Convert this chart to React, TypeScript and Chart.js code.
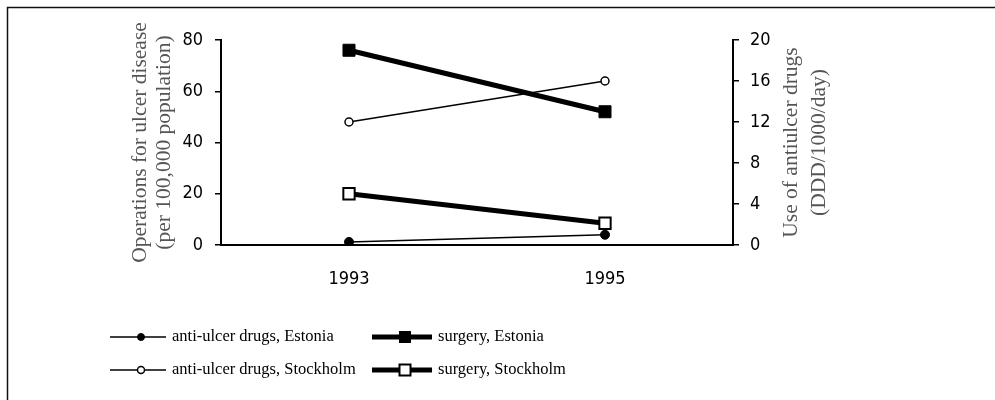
import React, { useEffect, useRef } from 'react';
import { Chart, registerables } from 'chart.js';

Chart.register(...registerables);

const years = ['1993', '1995'];
const drugsEstonia = [0.3, 1.0];
const drugsStockholm = [12, 16];
const surgeryEstonia = [76, 52];
const surgeryStockholm = [20, 8.5];
const leftTicks = [0, 20, 40, 60, 80];
const rightTicks = [0, 4, 8, 12, 16, 20];
const seriesNames = [
  'anti-ulcer drugs, Estonia',
  'anti-ulcer drugs, Stockholm',
  'surgery, Estonia',
  'surgery, Stockholm',
];
const leftTitle = ['Operations for ulcer disease', '(per 100,000 population)'];
const rightTitle = ['Use of antiulcer drugs', '(DDD/1000/day)'];

const TICK_FONT = '"Liberation Sans Narrow", "DejaVu Sans Condensed", "Arial Narrow", sans-serif';
const SERIF = '"Liberation Serif", "Times New Roman", serif';

const decorPlugin = {
  id: 'decor',
  afterDraw(chart: any) {
    const ctx = chart.ctx as CanvasRenderingContext2D;
    const area = chart.chartArea;
    const yL = chart.scales.y;
    const yR = chart.scales.y1;
    ctx.save();
    // frame
    ctx.strokeStyle = '#111';
    ctx.lineWidth = 1.5;
    ctx.beginPath();
    ctx.moveTo(7.5, 400);
    ctx.lineTo(7.5, 7.5);
    ctx.lineTo(995, 7.5);
    ctx.stroke();

    // axis titles (both read bottom-to-top)
    const cy = (area.top + area.bottom) / 2;
    ctx.fillStyle = '#555';
    ctx.font = '21.5px ' + SERIF;
    ctx.textAlign = 'center';
    ctx.textBaseline = 'middle';
    const drawTitle = (lines: string[], xs: number[]) => {
      lines.forEach((t, i) => {
        ctx.save();
        ctx.translate(xs[i], cy);
        ctx.rotate(-Math.PI / 2);
        ctx.fillText(t, 0, 0);
        ctx.restore();
      });
    };
    drawTitle(leftTitle, [yL.right - 81, yL.right - 57]);
    drawTitle(rightTitle, [yR.left + 58, yR.left + 86]);

    // legend
    const colX = [110, 372];
    const lineLen = [56, 60];
    const rowY = [337, 370];
    ctx.font = '16.5px ' + SERIF;
    ctx.textAlign = 'left';
    ctx.fillStyle = '#000';
    chart.data.datasets.forEach((ds: any, i: number) => {
      const col = i < 2 ? 0 : 1;
      const row = i % 2;
      const x0 = colX[col];
      const x1 = x0 + lineLen[col];
      const y = rowY[row];
      ctx.strokeStyle = ds.borderColor;
      ctx.lineWidth = ds.borderWidth;
      ctx.beginPath();
      ctx.moveTo(x0, y);
      ctx.lineTo(x1, y);
      ctx.stroke();
      const mx = (x0 + x1) / 2 + 3;
      ctx.fillStyle = ds.pointBackgroundColor;
      ctx.strokeStyle = ds.pointBorderColor;
      ctx.lineWidth = ds.pointBorderWidth;
      if (ds.pointStyle === 'rect') {
        const s = 11;
        ctx.fillRect(mx - s / 2, y - s / 2, s, s);
        ctx.strokeRect(mx - s / 2, y - s / 2, s, s);
      } else {
        ctx.beginPath();
        ctx.arc(mx, y, 3.5, 0, Math.PI * 2);
        ctx.fill();
        ctx.stroke();
      }
      ctx.fillStyle = '#000';
      ctx.fillText(seriesNames[i], x1 + 6, y);
    });
    ctx.restore();
  },
};

export default function App() {
  const ref = useRef<HTMLCanvasElement>(null);
  useEffect(() => {
    if (!ref.current) return;
    const tickFont = { family: TICK_FONT, size: 18 };
    const yAxis = (ticks: number[], position: 'left' | 'right', width: number, pad: number) => ({
      type: 'linear' as const,
      position,
      min: ticks[0],
      max: ticks[ticks.length - 1],
      ticks: {
        stepSize: ticks[1] - ticks[0],
        color: '#000',
        font: tickFont,
        padding: pad,
      },
      grid: {
        display: true,
        drawOnChartArea: false,
        drawTicks: true,
        tickLength: 6,
        color: '#000',
        lineWidth: 1.5,
      },
      border: { display: true, color: '#000', width: 2 },
      afterFit: (s: any) => {
        s.width = width;
      },
    });
    const chart = new Chart(ref.current, {
      type: 'line',
      data: {
        labels: years,
        datasets: [
          {
            label: seriesNames[0],
            data: drugsEstonia,
            yAxisID: 'y1',
            borderColor: '#000',
            borderWidth: 1.5,
            pointStyle: 'circle',
            pointRadius: 4.5,
            pointBackgroundColor: '#000',
            pointBorderColor: '#000',
            pointBorderWidth: 1,
            order: 2,
          },
          {
            label: seriesNames[1],
            data: drugsStockholm,
            yAxisID: 'y1',
            borderColor: '#000',
            borderWidth: 1.5,
            pointStyle: 'circle',
            pointRadius: 4,
            pointBackgroundColor: '#fff',
            pointBorderColor: '#000',
            pointBorderWidth: 1.5,
            order: 1,
          },
          {
            label: seriesNames[2],
            data: surgeryEstonia,
            yAxisID: 'y',
            borderColor: '#000',
            borderWidth: 5,
            pointStyle: 'rect',
            pointRadius: 8.5,
            pointBackgroundColor: '#000',
            pointBorderColor: '#000',
            pointBorderWidth: 1,
            order: 3,
          },
          {
            label: seriesNames[3],
            data: surgeryStockholm,
            yAxisID: 'y',
            borderColor: '#000',
            borderWidth: 5,
            pointStyle: 'rect',
            pointRadius: 8,
            pointBackgroundColor: '#fff',
            pointBorderColor: '#000',
            pointBorderWidth: 2,
            order: 4,
          },
        ],
      },
      options: {
        responsive: false,
        animation: false,
        layout: { padding: { top: 40, left: 0, right: 0, bottom: 0 } },
        plugins: {
          legend: { display: false },
          tooltip: { enabled: false },
        },
        elements: { line: { tension: 0 } },
        scales: {
          x: {
            type: 'category',
            offset: true,
            grid: { display: false },
            border: { display: true, color: '#000', width: 2 },
            ticks: { color: '#000', font: tickFont, padding: 16 },
            afterFit: (s: any) => {
              s.height = 155;
            },
          },
          y: yAxis(leftTicks, 'left', 221, 12),
          y1: yAxis(rightTicks, 'right', 262, 11),
        },
      },
      plugins: [decorPlugin],
    });
    return () => chart.destroy();
  }, []);
  return (
    <div style={{ position: 'absolute', left: 0, top: 0, width: 995, height: 400, background: '#fff' }}>
      <canvas ref={ref} width={995} height={400} />
    </div>
  );
}
